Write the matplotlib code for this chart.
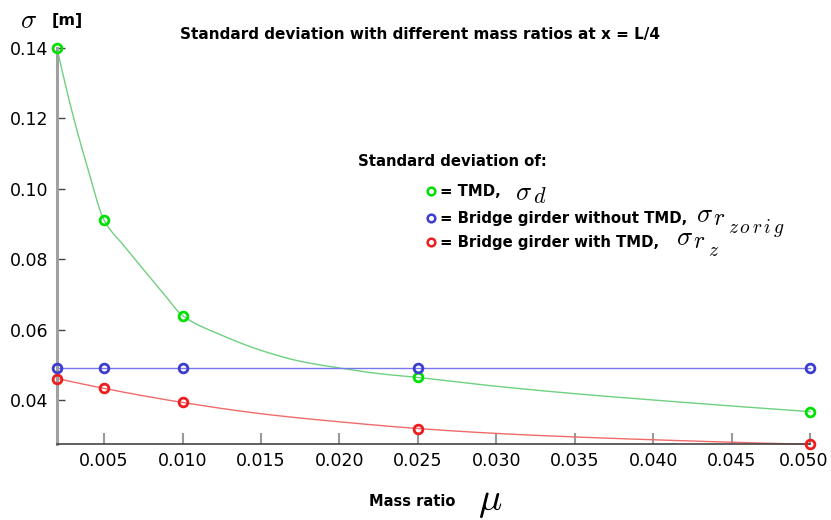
import numpy as np
import matplotlib
matplotlib.use("Agg")
import matplotlib.pyplot as plt
from matplotlib.lines import Line2D
from matplotlib.transforms import ScaledTranslation

plt.rcParams['font.family'] = ['DejaVu Sans']
plt.rcParams['mathtext.fontset'] = 'cm'

# marker values
mass_ratio = [0.002, 0.005, 0.010, 0.025, 0.050]
sigma_tmd = [0.1400, 0.0911, 0.0640, 0.0464, 0.0367]
sigma_orig = [0.0490, 0.0490, 0.0490, 0.0490, 0.0490]
sigma_with = [0.0461, 0.0433, 0.0393, 0.0319, 0.0274]

# curve values
tmd_curve_mu = [0.002, 0.003, 0.004, 0.005, 0.00625, 0.0075, 0.00875, 0.010, 0.0125, 0.015,
                0.0175, 0.020, 0.0225, 0.025, 0.030, 0.035, 0.040, 0.045, 0.050]
tmd_curve = [0.1400, 0.1212, 0.1052, 0.0911, 0.0839, 0.0771, 0.0705, 0.0640, 0.0584, 0.0541,
             0.0510, 0.0491, 0.0475, 0.0464, 0.0439, 0.0418, 0.0400, 0.0383, 0.0367]
orig_curve_mu = [0.002, 0.050]
orig_curve = [0.0490, 0.0490]
with_curve_mu = [0.002, 0.005, 0.0075, 0.010, 0.015, 0.020, 0.025, 0.030, 0.035, 0.040, 0.045, 0.050]
with_curve = [0.0461, 0.0433, 0.0412, 0.0393, 0.0361, 0.0338, 0.0319, 0.0305, 0.0295, 0.0287, 0.0280, 0.0274]

x_ticks = [0.005, 0.010, 0.015, 0.020, 0.025, 0.030, 0.035, 0.040, 0.045, 0.050]
y_ticks = [0.04, 0.06, 0.08, 0.10, 0.12, 0.14]


def pchip(x, y, xs):
    x = np.asarray(x, float); y = np.asarray(y, float); xs = np.asarray(xs, float)
    n = len(x)
    if n == 2:
        return np.interp(xs, x, y)
    h = np.diff(x); d = np.diff(y) / h
    m = np.zeros(n)
    for k in range(1, n - 1):
        if d[k - 1] * d[k] > 0:
            w1 = 2 * h[k] + h[k - 1]; w2 = h[k] + 2 * h[k - 1]
            m[k] = (w1 + w2) / (w1 / d[k - 1] + w2 / d[k])
    def end(h0, h1, d0, d1):
        v = ((2 * h0 + h1) * d0 - h0 * d1) / (h0 + h1)
        if np.sign(v) != np.sign(d0):
            v = 0.0
        elif np.sign(d0) != np.sign(d1) and abs(v) > abs(3 * d0):
            v = 3 * d0
        return v
    m[0] = end(h[0], h[1], d[0], d[1])
    m[-1] = end(h[-1], h[-2], d[-1], d[-2])
    idx = np.clip(np.searchsorted(x, xs) - 1, 0, n - 2)
    t = (xs - x[idx]) / h[idx]
    h00 = 2 * t ** 3 - 3 * t ** 2 + 1; h10 = t ** 3 - 2 * t ** 2 + t
    h01 = -2 * t ** 3 + 3 * t ** 2; h11 = t ** 3 - t ** 2
    return h00 * y[idx] + h10 * h[idx] * m[idx] + h01 * y[idx + 1] + h11 * h[idx] * m[idx + 1]


fig = plt.figure(figsize=(8.31, 5.2), dpi=100)
ax = fig.add_axes([57 / 831, 1 - 444 / 520, (810 - 57) / 831, (444 - 48) / 520])

series = [
    (tmd_curve_mu, tmd_curve, sigma_tmd, '#6fd080', '#00e000'),
    (orig_curve_mu, orig_curve, sigma_orig, '#7878ee', '#3c3cd0'),
    (with_curve_mu, with_curve, sigma_with, '#f06a6a', '#ee1c1c'),
]
for cmu, cval, vals, lc, mc in series:
    xs = np.linspace(cmu[0], cmu[-1], 600)
    ax.plot(xs, pchip(cmu, cval, xs), color=lc, lw=1.0, zorder=2, clip_on=False)
    ax.plot(mass_ratio, vals, 'o', ms=6.3, mfc='none', mec=mc, mew=2, zorder=3, clip_on=False)

ax.set_xlim(0.002, 0.050)
ax.set_ylim(0.0275, 0.14)
ax.set_xticks(x_ticks)
ax.set_xticklabels([f'{v:.3f}' for v in x_ticks])
ax.set_yticks(y_ticks)
ax.set_yticklabels([f'{v:.2f}' for v in y_ticks])
for s in ['top', 'right']:
    ax.spines[s].set_visible(False)
ax.spines['left'].set_color('#a0a0a0')
ax.spines['left'].set_linewidth(2.2)
ax.spines['bottom'].set_color('#444444')
ax.spines['bottom'].set_linewidth(1.2)
ax.tick_params(axis='y', direction='in', length=6, width=1, color='#444444', pad=6, labelsize=12.5)
ax.tick_params(axis='x', direction='in', length=8, width=1.5, color='#999999', pad=6, labelsize=12.5)
lbls = ax.get_xticklabels()
lbls[-1].set_transform(lbls[-1].get_transform() + ScaledTranslation(-6 / 100, 0, fig.dpi_scale_trans))

fig.text(420 / 831, 1 - 35 / 520, 'Standard deviation with different mass ratios at x = L/4',
         ha='center', va='center', fontsize=11, fontweight='bold')
fig.text(20 / 831, 1 - 21 / 520, r'$\sigma$', ha='left', va='center', fontsize=19)
fig.text(52 / 831, 1 - 20 / 520, '[m]', ha='left', va='center', fontsize=11.5, fontweight='bold')
fig.text(369 / 831, 1 - 501 / 520, 'Mass ratio', ha='left', va='center', fontsize=10.5, fontweight='bold')
fig.text(478 / 831, 1 - 501 / 520, r'$\mu$', ha='left', va='center', fontsize=28)

fig.text(358 / 831, 1 - 162 / 520, 'Standard deviation of:', ha='left', va='center',
         fontsize=10.7, fontweight='bold')
entries = [
    (191, '#00e000', '= TMD,'),
    (218, '#3c3cd0', '= Bridge girder without TMD,'),
    (242, '#ee1c1c', '= Bridge girder with TMD,'),
]
for y, col, txt in entries:
    fig.add_artist(Line2D([431 / 831], [1 - y / 520], marker='o', ms=5.5, mfc='none', mec=col, mew=1.8))
    fig.text(440 / 831, 1 - y / 520, txt, ha='left', va='center', fontsize=10.7, fontweight='bold')

# math symbols of the legend: (text, left px, baseline px, size)
math_parts = [
    (r'$\sigma$', 515, 200, 19), (r'$d$', 533, 203, 16),
    (r'$\sigma$', 696, 222, 19), (r'$r$', 713, 225, 17), (r'$z\,o\,r\,i\,g$', 728, 233, 14),
    (r'$\sigma$', 676, 245, 19), (r'$r$', 693, 248, 17), (r'$z$', 708, 256, 14),
]
for t, px, py, fs in math_parts:
    fig.text(px / 831, 1 - py / 520, t, ha='left', va='baseline', fontsize=fs)

fig.savefig('out.png', dpi=100)
